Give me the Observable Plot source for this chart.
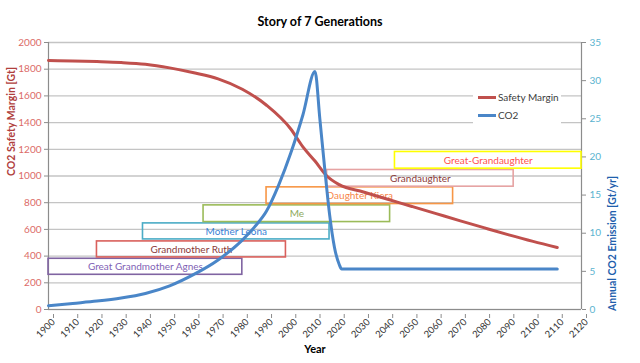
<!DOCTYPE html>
<html>
<head>
<meta charset="utf-8">
<script src="https://cdn.jsdelivr.net/npm/d3@7"></script>
<script src="https://cdn.jsdelivr.net/npm/@observablehq/plot@0.6"></script>
<style>
  html, body { margin: 0; padding: 0; background: #fff; }
  #wrap { position: relative; width: 640px; height: 363px; font-family: Lato, "Open Sans", sans-serif; }
  #legend { position: absolute; left: 473px; top: 86px; width: 88px; height: 38px; background: #fff; font-size: 10px; color: #404040; }
  .row { position: absolute; left: 5px; display: flex; align-items: center; }
  .sw { width: 18px; height: 3px; margin-right: 2px; }
</style>
</head>
<body>
<div id="wrap"></div>
<script>
// ---- data ----
const safetyYears = [1900,1910,1920,1930,1940,1950,1960,1970,1980,1990,2000,2005,2010,2015,2020,2030,2040,2050,2060,2070,2080,2090,2100,2110];
const safetyValues = [1865,1862,1857,1850,1837,1810,1773,1728,1650,1530,1352,1218,1112,998,935,880,826,772,718,664,611,559,510,465];

const co2Years = [1900,1910,1920,1930,1940,1950,1960,1970,1980,1985,1990,1995,2000,2005,2010,2012,2014,2016,2018,2020,2021,2110];
const co2Values = [0.5,0.8,1.1,1.5,2.1,3.1,4.6,6.5,9.1,10.8,12.9,16.3,20.5,25.5,31.2,25,18.5,12.5,8.2,5.9,5.3,5.3];

const genNames = ["Great Grandmother Agnes","Grandmother Ruth","Mother Leona","Me","Daughter Kiera","Grandaughter","Great-Grandaughter"];
const genStart = [1900,1920,1939,1964,1990,2015,2043];
const genEnd   = [1980,1998,2016,2041,2067,2092,2120];
const genLow   = [260,390,525,655,790,920,1055];
const genHigh  = [380,510,645,780,915,1045,1180];

const leftTicks = [0,200,400,600,800,1000,1200,1400,1600,1800,2000];
const rightTicks = [0,5,10,15,20,25,30,35];
const yearTicks = [1900,1910,1920,1930,1940,1950,1960,1970,1980,1990,2000,2010,2020,2030,2040,2050,2060,2070,2080,2090,2100,2110,2120];

// ---- styles ----
const genStroke = ["#8064A2","#D9605C","#4BACC6","#9BBB59","#F79646","#E6A3A3","#FFFF00"];
const genText   = ["#7F5FB5","#8B3A3A","#3A7FD5","#8FAA5C","#F7864A","#8B3A3A","#FF4F4F"];

const K = 2000 / 35; // right-axis to left-axis factor

const safety = safetyYears.map((y, i) => ({year: y, v: safetyValues[i]}));
const co2 = co2Years.map((y, i) => ({year: y, v: co2Values[i]}));
const gens = genNames.map((n, i) => ({name: n, start: genStart[i], end: genEnd[i], lo: genLow[i], hi: genHigh[i], stroke: genStroke[i], text: genText[i]}));

const chart = Plot.plot({
  width: 640,
  height: 363,
  marginLeft: 48,
  marginRight: 59,
  marginTop: 42,
  marginBottom: 54,
  style: {fontFamily: "Lato, 'Open Sans', sans-serif", fontSize: "10px", background: "#fff"},
  x: {domain: [1900, 2120]},
  y: {domain: [0, 2000]},
  color: {type: "identity"},
  marks: [
    Plot.gridY(leftTicks, {stroke: "#c4c4c4", strokeOpacity: 1, strokeWidth: 1.3}),
    Plot.ruleX([1900, 2120], {stroke: "#8c8c8c", strokeWidth: 1.2}),
    Plot.ruleY([0], {stroke: "#8c8c8c", strokeWidth: 1.2}),
    Plot.axisY(leftTicks, {anchor: "left", tickSize: 4, tickPadding: 3, stroke: "#8c8c8c", fill: "#DC6B68", label: null, tickFormat: d => String(d)}),
    Plot.axisY(rightTicks.map(v => v * K), {anchor: "right", tickSize: 4, tickPadding: 4, stroke: "#8c8c8c", fill: "#5BB3CF", label: null, tickFormat: d => String(Math.round(d / K))}),
    Plot.axisX(yearTicks, {anchor: "bottom", tickSize: 4, tickPadding: 2, tickRotate: -45, dx: 5, dy: 5, fontSize: 9.5, stroke: "#8c8c8c", fill: "#333", label: null, tickFormat: d => String(d)}),
    Plot.rect(gens, {x1: "start", x2: "end", y1: "lo", y2: "hi", fill: "none", stroke: "stroke", strokeWidth: 1.6}),
    Plot.text(gens, {x: d => (d.start + d.end) / 2, y: d => (d.lo + d.hi) / 2, text: "name", fill: "text", fontSize: 10}),
    Plot.line(safety, {x: "year", y: "v", stroke: "#C0504D", strokeWidth: 3, curve: "monotone-x"}),
    Plot.line(co2, {x: "year", y: d => d.v * K, stroke: "#4A86C8", strokeWidth: 3, curve: "monotone-x"}),
    Plot.text(["Story of 7 Generations"], {frameAnchor: "top", dx: 5, dy: -25, fontSize: 12.5, fontWeight: "bold", fill: "#000"}),
    Plot.text(["Year"], {frameAnchor: "bottom", dx: 0, dy: 43, fontSize: 11, fontWeight: "bold", fill: "#000"}),
    Plot.text(["CO2 Safety Margin [Gt]"], {frameAnchor: "left", dx: -37, rotate: -90, fontSize: 10.5, fontWeight: "bold", fill: "#B0403D"}),
    Plot.text(["Annual CO2 Emission [Gt/yr]"], {frameAnchor: "right", dx: 31, rotate: -90, fontSize: 10.5, fontWeight: "bold", fill: "#1F5FAD"})
  ]
});

const wrap = document.getElementById("wrap");
wrap.appendChild(chart);

const legend = document.createElement("div");
legend.id = "legend";
legend.innerHTML =
  '<div class="row" style="top:5px"><div class="sw" style="background:#C0504D"></div><span>Safety Margin</span></div>' +
  '<div class="row" style="top:23px"><div class="sw" style="background:#4A86C8"></div><span>CO2</span></div>';
wrap.appendChild(legend);
</script>
</body>
</html>
